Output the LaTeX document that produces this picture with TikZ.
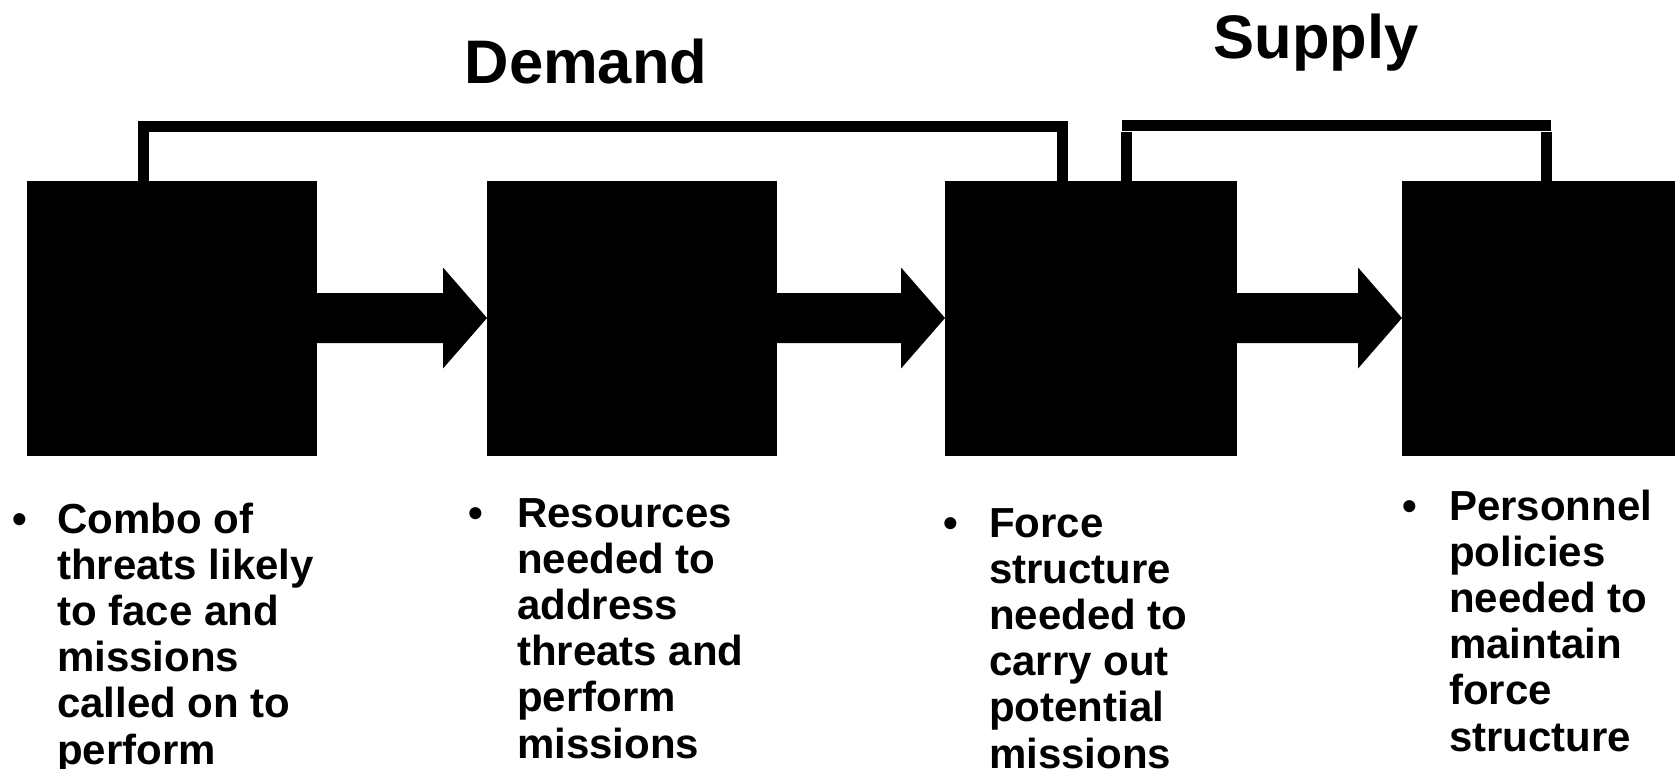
\documentclass[tikz,border=0pt]{standalone}
\usepackage{fontspec}
\setmainfont{Liberation Sans}
\usetikzlibrary{calc}
\begin{document}
\begin{tikzpicture}[x=1pt,y=-1pt,
  box/.style={fill=black, draw=none, inner sep=0pt, outer sep=0pt, minimum height=275pt},
  bracket/.style={draw=black, line width=11pt},
  leg/.style={draw=black, line width=10.5pt},
  fatarrow/.style={to path={($(\tikztostart)+(0,-25)$) -- ($(\tikztotarget)+(-44,-25)$) -- ($(\tikztotarget)+(-44,-50.5)$) -- (\tikztotarget) -- ($(\tikztotarget)+(-44,50.5)$) -- ($(\tikztotarget)+(-44,25)$) -- ($(\tikztostart)+(0,25)$) -- cycle}},
  heading/.style={font=\bfseries\fontsize{61.5}{70}\selectfont, inner sep=0pt, anchor=base},
  bulletmark/.style={font=\bfseries\fontsize{42}{46.2}\selectfont, inner sep=0pt, anchor=base},
  itemtext/.style={font=\bfseries\fontsize{42}{46.2}\selectfont, inner sep=0pt, anchor=base west}
]
\useasboundingbox (0,0) rectangle (1675,768);

% boxes
\node[box, minimum width=290pt] (b1) at (172,318) {};
\node[box, minimum width=290pt] (b2) at (632,318) {};
\node[box, minimum width=292pt] (b3) at (1091,318) {};
\node[box, minimum width=290pt] (b4) at (1547,318) {};

% block arrows
\fill[black] (b1.east) to[fatarrow] (b2.west);
\fill[black] (b2.east) to[fatarrow] (b3.west);
\fill[black] (b3.east) to[fatarrow] (b4.west);

% demand bracket
\coordinate (dl) at ($(b1.north west)+(116,0)$);
\coordinate (dr) at ($(b3.north west)+(117,0)$);
\coordinate (dtop) at (0,126);
\draw[bracket] (dl) -- (dl |- dtop) -- (dr |- dtop) -- (dr);

% supply bracket
\coordinate (sl) at (1122,125.5);
\coordinate (sr) at (1551,125.5);
\coordinate (stop) at (0,132);
\draw[bracket] (sl) -- (sr);
\coordinate (ll) at ($(b3.north west)+(181.5,0)$);
\coordinate (rl) at ($(b4.north west)+(144.5,0)$);
\draw[leg] (ll) -- (ll |- stop);
\draw[leg] (rl) -- (rl |- stop);

% headings
\node[heading] (demand) at (586,83) {Demand};
\node[heading] (supply) at (1316,59) {Supply};

% bullet texts
\node[bulletmark] (m1) at (20,533) {•};
\node[itemtext] (t1) at (57,533) {\parbox[t]{330pt}{Combo of\\threats likely\\to face and\\missions\\called on to\\perform}};

\node[bulletmark] (m2) at (476,527) {•};
\node[itemtext] (t2) at (517,527) {\parbox[t]{330pt}{Resources\\needed to\\address\\threats and\\perform\\missions}};

\node[bulletmark] (m3) at (951,537) {•};
\node[itemtext] (t3) at (989,537) {\parbox[t]{330pt}{Force\\structure\\needed to\\carry out\\potential\\missions}};

\node[bulletmark] (m4) at (1410,520) {•};
\node[itemtext] (t4) at (1449,520) {\parbox[t]{330pt}{Personnel\\policies\\needed to\\maintain\\force\\structure}};
\end{tikzpicture}
\end{document}
